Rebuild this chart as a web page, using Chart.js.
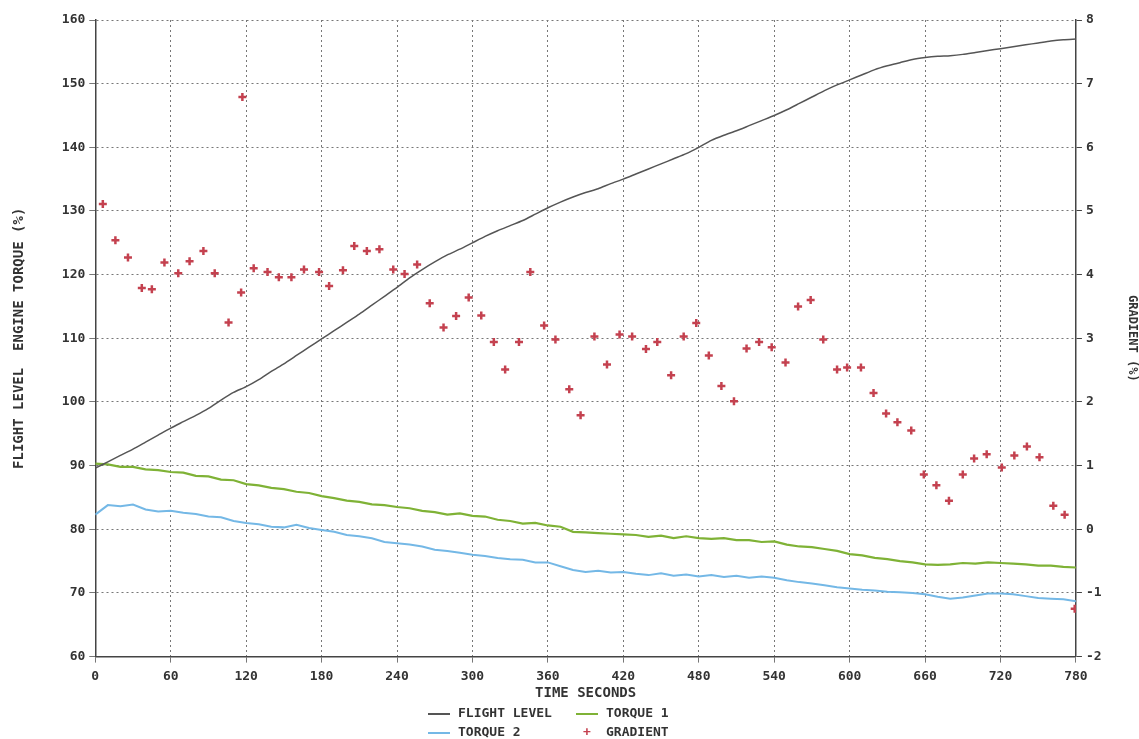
<!DOCTYPE html>
<html>
<head>
<meta charset="utf-8">
<script src="https://cdn.jsdelivr.net/npm/chart.js@4"></script>
<style>
  body { margin: 0; background: #fff; }
  #wrap { position: relative; width: 1139px; height: 739px; }
  #legend { position: absolute; left: 0; top: 704px; width: 1139px; font: bold 13px "DejaVu Sans Mono", monospace; color: #333; }
  .item { position: absolute; height: 18px; line-height: 18px; white-space: pre; }
  .swatch { display: inline-block; width: 22px; height: 0; vertical-align: middle; margin-right: 8px; }
  .plus { display: inline-block; width: 22px; text-align: center; margin-right: 8px; font-weight: bold; }
</style>
</head>
<body>
<div id="wrap">
  <canvas id="chart" width="1139" height="739"></canvas>
  <div id="legend"></div>
</div>
<script>
// Time axis (seconds) for the traces, 10 s steps
var traceTimes = [];
for (var s = 0; s <= 780; s += 10) traceTimes.push(s);

// Left axis series (flight level, torque %) read every 10 s
var flightLevel = [89.6, 90.6, 91.6, 92.6, 93.7, 94.8, 95.9, 96.9, 97.9, 99.0,
  100.3, 101.5, 102.4, 103.5, 104.8, 106.0, 107.3, 108.6, 109.9, 111.2,
  112.5, 113.8, 115.2, 116.6, 118.0, 119.5, 120.8, 122.0, 123.1, 124.0,
  125.0, 126.0, 126.9, 127.7, 128.5, 129.5, 130.5, 131.4, 132.2, 132.9,
  133.5, 134.3, 135.0, 135.8, 136.6, 137.4, 138.2, 139.0, 140.0, 141.1,
  141.9, 142.6, 143.4, 144.2, 145.0, 145.9, 146.9, 147.9, 148.9, 149.8,
  150.6, 151.4, 152.2, 152.8, 153.3, 153.8, 154.1, 154.3, 154.4, 154.6,
  154.9, 155.2, 155.5, 155.8, 156.1, 156.4, 156.7, 156.9, 157.0];

var torque1 = [90.3, 90.2, 89.8, 89.8, 89.4, 89.3, 89.0, 88.9, 88.4, 88.3,
  87.8, 87.7, 87.1, 86.9, 86.5, 86.3, 85.9, 85.7, 85.2, 84.9,
  84.5, 84.3, 83.9, 83.8, 83.5, 83.3, 82.9, 82.7, 82.3, 82.5,
  82.1, 82.0, 81.5, 81.3, 80.9, 81.0, 80.6, 80.4, 79.6, 79.5,
  79.4, 79.3, 79.2, 79.1, 78.8, 79.0, 78.6, 78.9, 78.6, 78.5,
  78.6, 78.3, 78.3, 78.0, 78.1, 77.6, 77.3, 77.2, 76.9, 76.6,
  76.1, 75.9, 75.5, 75.3, 75.0, 74.8, 74.5, 74.4, 74.5, 74.7,
  74.6, 74.8, 74.7, 74.6, 74.5, 74.3, 74.3, 74.1, 74.0];

var torque2 = [82.3, 83.8, 83.6, 83.9, 83.1, 82.8, 82.9, 82.6, 82.4, 82.0,
  81.9, 81.3, 81.0, 80.8, 80.4, 80.3, 80.7, 80.2, 79.9, 79.6,
  79.1, 78.9, 78.6, 78.0, 77.8, 77.6, 77.3, 76.8, 76.6, 76.3,
  76.0, 75.8, 75.5, 75.3, 75.2, 74.8, 74.8, 74.2, 73.6, 73.3,
  73.5, 73.2, 73.3, 73.0, 72.8, 73.1, 72.7, 72.9, 72.6, 72.8,
  72.5, 72.7, 72.4, 72.6, 72.4, 72.0, 71.7, 71.5, 71.2, 70.9,
  70.7, 70.5, 70.4, 70.2, 70.1, 70.0, 69.8, 69.4, 69.1, 69.3,
  69.6, 69.9, 69.9, 69.8, 69.5, 69.2, 69.1, 69.0, 68.7];

// Right axis: gradient (%) samples
var gradientTimes = [6, 16, 26, 37, 45, 55, 66, 75, 86, 95,
  106, 116, 117, 126, 137, 146, 156, 166, 178, 186,
  197, 206, 216, 226, 237, 246, 256, 266, 277, 287,
  297, 307, 317, 326, 337, 346, 357, 366, 377, 386,
  397, 407, 417, 427, 438, 447, 458, 468, 478, 488,
  498, 508, 518, 528, 538, 549, 559, 569, 579, 590,
  598, 609, 619, 629, 638, 649, 659, 669, 679, 690,
  699, 709, 721, 731, 741, 751, 762, 771, 779];
var gradient = [5.11, 4.54, 4.27, 3.79, 3.77, 4.19, 4.02, 4.21, 4.37, 4.02,
  3.25, 3.72, 6.79, 4.10, 4.04, 3.96, 3.96, 4.08, 4.04, 3.82,
  4.07, 4.45, 4.37, 4.40, 4.08, 4.01, 4.16, 3.55, 3.17, 3.35,
  3.64, 3.36, 2.94, 2.51, 2.94, 4.04, 3.20, 2.98, 2.20, 1.79,
  3.03, 2.59, 3.06, 3.03, 2.83, 2.94, 2.42, 3.03, 3.24, 2.73,
  2.25, 2.01, 2.84, 2.94, 2.86, 2.62, 3.50, 3.60, 2.98, 2.51,
  2.54, 2.54, 2.14, 1.82, 1.68, 1.55, 0.86, 0.69, 0.45, 0.86,
  1.11, 1.18, 0.97, 1.16, 1.30, 1.13, 0.37, 0.23, -1.25];

var seriesNames = ["FLIGHT LEVEL", "TORQUE 1", "TORQUE 2", "GRADIENT"];
var seriesColors = ["#555555", "#7fb236", "#74b8e6", "#c4414f"];

function pts(xs, ys) {
    return xs.map(function(x, i) { return { x: x, y: ys[i] }; });
}

var monoFont = '"DejaVu Sans Mono", monospace';
var gridColor = "#777";

var chart = new Chart(document.getElementById("chart").getContext("2d"), {
    type: "line",
    data: {
        datasets: [
            { label: seriesNames[0], data: pts(traceTimes, flightLevel), yAxisID: "y",
              borderColor: seriesColors[0], borderWidth: 1.5, pointRadius: 0, tension: 0.2 },
            { label: seriesNames[1], data: pts(traceTimes, torque1), yAxisID: "y",
              borderColor: seriesColors[1], borderWidth: 2.2, pointRadius: 0 },
            { label: seriesNames[2], data: pts(traceTimes, torque2), yAxisID: "y",
              borderColor: seriesColors[2], borderWidth: 2, pointRadius: 0 },
            { label: seriesNames[3], data: pts(gradientTimes, gradient), yAxisID: "y2",
              showLine: false, pointStyle: "cross", pointRadius: 4, pointBorderWidth: 2.5,
              borderColor: seriesColors[3], backgroundColor: seriesColors[3] }
        ]
    },
    options: {
        responsive: false,
        animation: false,
        layout: { padding: { left: 11, right: 0, top: 20, bottom: 37 } },
        plugins: { legend: { display: false }, tooltip: { enabled: false } },
        scales: {
            x: {
                type: "linear", min: 0, max: 780,
                ticks: { stepSize: 60, color: "#333", font: { family: monoFont, size: 13, weight: "bold" }, padding: 6 },
                grid: { color: gridColor, tickLength: 6 },
                border: { color: "#444", width: 1.5, dash: [2, 3] },
                title: { display: true, text: "TIME SECONDS", color: "#333",
                         font: { family: monoFont, size: 14, weight: "bold" }, padding: { top: -5, bottom: 0 } }
            },
            y: {
                position: "left", min: 60, max: 160,
                ticks: { stepSize: 10, color: "#333", font: { family: monoFont, size: 13, weight: "bold" }, padding: 4 },
                grid: { color: gridColor, tickLength: 6 },
                border: { color: "#444", width: 1.5, dash: [2, 3] },
                title: { display: true, text: "FLIGHT LEVEL  ENGINE TORQUE (%)", color: "#333",
                         font: { family: monoFont, size: 14, weight: "bold" }, padding: { top: 0, bottom: 30 } }
            },
            y2: {
                position: "right", min: -2, max: 8,
                ticks: { stepSize: 1, color: "#333", font: { family: monoFont, size: 13, weight: "bold" }, padding: 4 },
                grid: { drawOnChartArea: false, tickLength: 6, color: "#444" },
                border: { color: "#444", width: 1.5 },
                title: { display: true, text: "GRADIENT (%)", color: "#333",
                         font: { family: monoFont, size: 12, weight: "bold" }, padding: { top: 0, bottom: 19 } }
            }
        }
    }
});

// Legend, two rows of two like the original printout
var legend = document.getElementById("legend");
var legendPos = [[428, 0], [576, 0], [428, 19], [576, 19]];
seriesNames.forEach(function(name, i) {
    var item = document.createElement("div");
    item.className = "item";
    item.style.left = legendPos[i][0] + "px";
    item.style.top = legendPos[i][1] + "px";
    if (i === 3) {
        item.innerHTML = '<span class="plus" style="color:' + seriesColors[i] + '">+</span>' + name;
    } else {
        item.innerHTML = '<span class="swatch" style="border-top:2px solid ' + seriesColors[i] + '"></span>' + name;
    }
    legend.appendChild(item);
});
</script>
</body>
</html>
